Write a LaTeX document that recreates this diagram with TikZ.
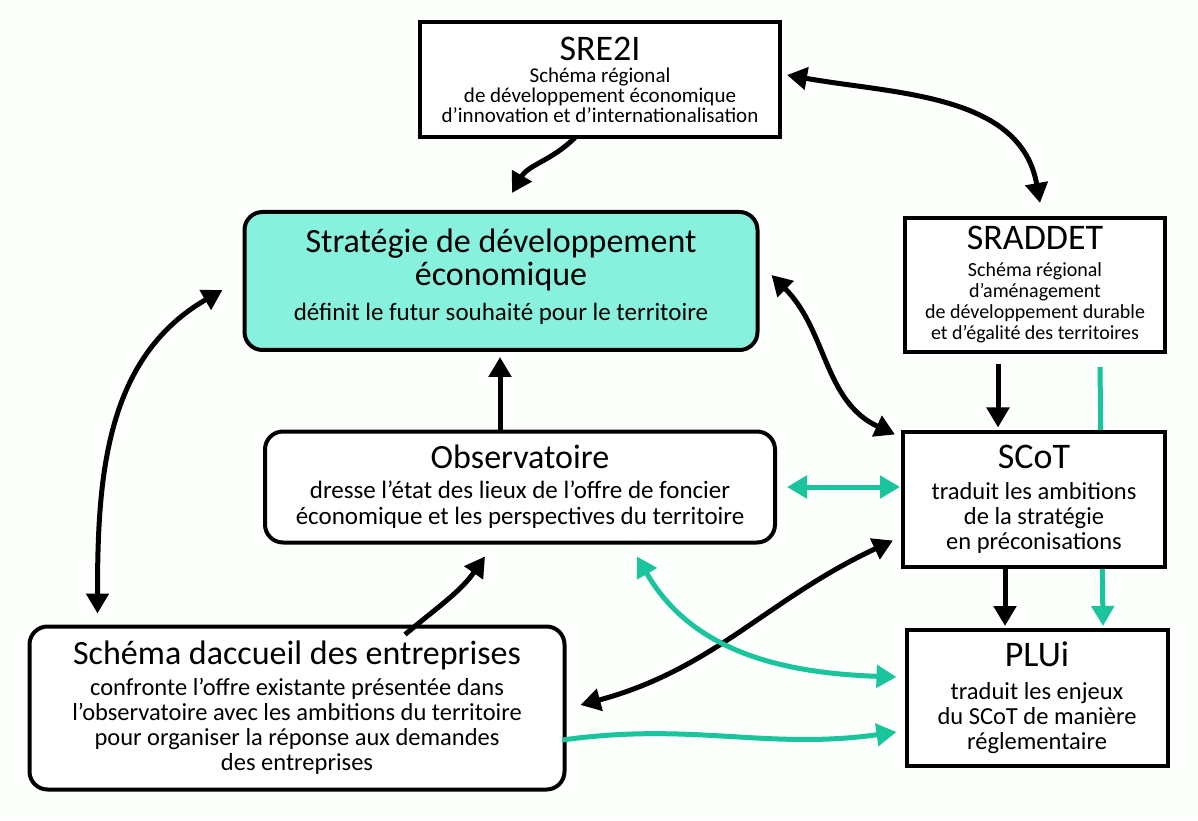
\documentclass[tikz,border=0pt]{standalone}
\usepackage{fontspec}
\setmainfont{Carlito}
\usetikzlibrary{arrows.meta}
\definecolor{tealc}{RGB}{26,196,156}
\definecolor{aquac}{RGB}{136,241,221}
\definecolor{bgc}{RGB}{252,255,252}
\newcommand{\tA}{\fontsize{34}{36}\selectfont}
\newcommand{\tB}{\fontsize{36}{38}\selectfont}
\begin{document}
\begin{tikzpicture}[x=1pt,y=1pt,
  box/.style={draw=black,line width=4pt,fill=white,align=center,inner sep=0pt},
  rbox/.style={box,rounded corners=18pt},
  tip/.style={-{Triangle[length=20pt,width=22pt]}},
  dtip/.style={{Triangle[length=20pt,width=22pt]}-{Triangle[length=20pt,width=22pt]}},
  blk/.style={line width=5pt,draw=black},
  tl/.style={line width=5pt,draw=tealc},
]
\fill[bgc] (0,0) rectangle (1198,820);
\useasboundingbox (0,0) rectangle (1198,820);

\node[box,minimum width=360,minimum height=115,font=\fontsize{21}{20}\selectfont] (sre) at (600,740)
  {\tB SRE2I\\[2pt]Schéma régional\\de développement économique\\d'innovation et d'internationalisation};
\node[rbox,fill=aquac,minimum width=513,minimum height=138,font=\fontsize{25}{26}\selectfont] (strat) at (501,539)
  {\tA Stratégie de développement\\[3pt]\tA économique\\[9pt]définit le futur souhaité pour le territoire\\[-14pt]};
\node[box,minimum width=260,minimum height=134,font=\fontsize{20}{21}\selectfont] (sraddet) at (1035,535)
  {\tB SRADDET\\[6pt]Schéma régional\\d'aménagement\\de développement durable\\et d'égalité des territoires};
\node[rbox,minimum width=510,minimum height=111,font=\fontsize{25}{26}\selectfont] (obs) at (520,333)
  {\tA Observatoire\\[4pt]dresse l'état des lieux de l'offre de foncier\\économique et les perspectives du territoire};
\node[rbox,minimum width=535,minimum height=163,font=\fontsize{24.5}{25}\selectfont] (sda) at (297,112)
  {\tA Schéma daccueil des entreprises\\[6pt]confronte l'offre existante présentée dans\\l'observatoire avec les ambitions du territoire\\pour organiser la réponse aux demandes\\des entreprises};
\node[box,minimum width=261,minimum height=136,font=\fontsize{24.5}{25}\selectfont] (plui) at (1037,122)
  {\tB PLUi\\[8pt]traduit les enjeux\\du SCoT de manière\\réglementaire};

% teal SRADDET -> PLUi passes behind SCoT
\draw[tl,tip] ([xshift=65pt,yshift=-13pt]sraddet.south) -- ([xshift=66pt,yshift=2pt]plui.north);

\node[box,minimum width=262,minimum height=135,font=\fontsize{24.5}{25}\selectfont] (scot) at (1034,321)
  {\tB SCoT\\[6pt]traduit les ambitions\\de la stratégie\\en préconisations};

% black connectors
\draw[blk,tip] ([xshift=-25pt,yshift=2pt]sre.south) to[out=225,in=60] ([xshift=11pt,yshift=17pt]strat.north);
\draw[blk,dtip] ([xshift=5pt,yshift=5pt]sre.east) to[out=-10,in=100] ([xshift=5pt,yshift=13pt]sraddet.north);
\draw[blk,dtip] ([xshift=12pt,yshift=6pt]strat.east) to[out=-45,in=155] ([xshift=-6pt,yshift=-5pt]scot.north west);
\draw[blk,dtip] ([xshift=-20pt,yshift=-9pt]strat.west) to[out=210,in=90] ([xshift=70pt,yshift=11pt]sda.north west);
\draw[blk,tip] ([xshift=-20pt,yshift=-2pt]obs.north) -- ([xshift=-1pt,yshift=-5pt]strat.south);
\draw[blk,tip] ([xshift=-37pt,yshift=-10pt]sraddet.south) -- ([xshift=-36pt,yshift=2pt]scot.north);
\draw[blk,tip] ([xshift=-29pt]scot.south) -- ([xshift=-32pt,yshift=2pt]plui.north);
\draw[blk,tip] ([xshift=108pt,yshift=-10pt]sda.north) to[out=40,in=235] ([xshift=-35pt,yshift=-12pt]obs.south);
\draw[blk,dtip] ([xshift=14pt,yshift=3pt]sda.east) to[out=15,in=205] ([xshift=-8pt,yshift=28pt]scot.south west);

% teal connectors
\draw[tl,dtip] ([xshift=10pt]obs.east) -- ([xshift=-1pt,yshift=12pt]scot.west);
\draw[tl,dtip] ([xshift=117pt,yshift=-12pt]obs.south) to[out=-60,in=178] ([xshift=-8pt,yshift=21pt]plui.west);
\draw[tl,tip] ([xshift=-4pt,yshift=-32pt]sda.east) to[out=8,in=188] ([xshift=-8pt,yshift=-34pt]plui.west);
\end{tikzpicture}
\end{document}
